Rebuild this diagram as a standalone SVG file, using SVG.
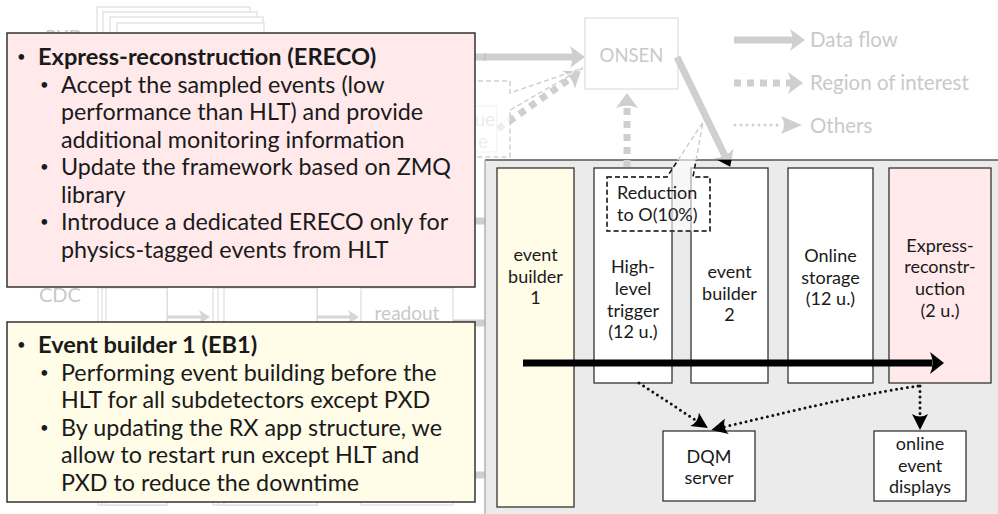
<svg xmlns="http://www.w3.org/2000/svg" width="998" height="514" viewBox="0 0 998 514">
<defs>
<style>
.f{font-family:Lato,"Liberation Sans",sans-serif}
.note{font-size:23.3px;fill:#1a1a1a}
.b{font-weight:bold;font-size:23.6px}
.bul{font-size:15px}
.node rect{stroke:#333;stroke-width:1.3}
.node text{font-size:18px;text-anchor:middle;fill:#1a1a1a}
.dim{fill:#c9c9c9}
.dimbox{fill:#fff;stroke:#dedede;stroke-width:1.2}
.flow{stroke:#cfcfcf;stroke-width:7;fill:none}
.thin{stroke:#d6d6d6;stroke-width:3;fill:none}
.roi{stroke:#cfcfcf;stroke-width:7;stroke-dasharray:7 6;fill:none}
.dot{stroke:#111;stroke-width:3;stroke-linecap:round;stroke-dasharray:0 5.5;fill:none}
.ldot{stroke:#cfcfcf;stroke-width:3;stroke-linecap:round;stroke-dasharray:0 6;fill:none}
</style>
<marker id="headGrey" markerUnits="userSpaceOnUse" markerWidth="16" markerHeight="22" viewBox="0 0 16 22" refX="3" refY="11" orient="auto">
<path d="M0,0 L15,11 L0,22 Q5,11 0,0Z" fill="#cfcfcf"/>
</marker>
<marker id="headThin" markerUnits="userSpaceOnUse" markerWidth="12" markerHeight="14" viewBox="0 0 12 14" refX="2" refY="7" orient="auto">
<path d="M0,0 L11,7 L0,14 Q4,7 0,0Z" fill="#d6d6d6"/>
</marker>
<marker id="headBlackFlow" markerUnits="userSpaceOnUse" markerWidth="16" markerHeight="22" viewBox="0 0 16 22" refX="3" refY="11" orient="auto">
<path d="M0,0 L15,11 L0,22 Q5,11 0,0Z" fill="#000"/>
</marker>
<marker id="headBig" markerUnits="userSpaceOnUse" markerWidth="15" markerHeight="22" viewBox="0 0 15 22" refX="2" refY="11" orient="auto">
<path d="M0,0 L14,11 L0,22 Q5,11 0,0Z" fill="#000"/>
</marker>
<marker id="headDot" markerUnits="userSpaceOnUse" markerWidth="16" markerHeight="16" viewBox="0 0 16 16" refX="3" refY="8" orient="auto">
<path d="M0,0 L16,8 L0,16 Q5,8 0,0Z" fill="#000"/>
</marker>
<marker id="headIn" markerUnits="userSpaceOnUse" markerWidth="13" markerHeight="16" viewBox="0 0 13 16" refX="1" refY="8" orient="auto">
<path d="M0,0 L12,8 L0,16 Q2,8 0,0Z" fill="#000"/>
</marker>
<marker id="headLegDot" markerUnits="userSpaceOnUse" markerWidth="22" markerHeight="18" viewBox="0 0 22 18" refX="2" refY="9" orient="auto">
<path d="M0,0 L21,9 L0,18 Q6,9 0,0Z" fill="#cfcfcf"/>
</marker>
<clipPath id="panelArea"><rect x="485" y="160" width="513" height="354"/></clipPath>
<clipPath id="aboveNote"><rect x="0" y="0" width="998" height="33"/></clipPath>
</defs>

<rect width="998" height="514" fill="#fff"/>

<!-- upstream readout chain, shown dimmed -->
<g id="upstream" class="f">
  <g id="pxd-stack">
    <rect class="dimbox" x="97" y="7" width="153" height="60"/>
    <rect class="dimbox" x="103" y="12" width="154" height="60"/>
    <rect class="dimbox" x="110" y="17" width="153" height="60"/>
    <rect class="dimbox" x="117" y="23" width="147" height="60"/>
    <text class="dim" x="45" y="44" font-size="19" clip-path="url(#aboveNote)">PXD</text>
  </g>
  <g id="cdc-chain">
    <text class="dim" x="39" y="302" font-size="20">CDC</text>
    <rect class="dimbox" x="98" y="288" width="69" height="217"/>
    <rect class="dimbox" x="102" y="288" width="65" height="217"/>
    <rect class="dimbox" x="106" y="288" width="61" height="217"/>
    <rect class="dimbox" x="213" y="288" width="104" height="217"/>
    <rect class="dimbox" x="218" y="288" width="99" height="217"/>
    <rect class="dimbox" x="224" y="288" width="93" height="217"/>
    <rect class="dimbox" x="361" y="288" width="92" height="217"/>
    <text class="dim" x="407" y="320" font-size="19" text-anchor="middle">readout</text>
    <line class="thin" x1="167" y1="317" x2="201" y2="317" marker-end="url(#headThin)"/>
    <line class="thin" x1="317" y1="317" x2="350" y2="317" marker-end="url(#headThin)"/>
  </g>
  <g id="roi-box">
    <rect class="dimbox" x="400" y="106" width="97" height="46"/>
    <text class="dim" x="495" y="126" font-size="19" text-anchor="end">ue</text>
    <text class="dim" x="488" y="148" font-size="19" text-anchor="end">e</text>
  </g>
  <g id="onsen">
    <rect class="dimbox" x="585" y="18" width="93" height="71"/>
    <text class="dim" x="631.5" y="62" font-size="18.5" text-anchor="middle">ONSEN</text>
  </g>
  <g id="upstream-links">
    <line class="flow" x1="470" y1="57" x2="573" y2="57" marker-end="url(#headGrey)"/>
    <line x1="485" y1="53" x2="485" y2="61" stroke="#bbb" stroke-width="1"/>
    <line class="roi" x1="498" y1="129" x2="571" y2="78" marker-end="url(#headGrey)"/>
    <path d="M470,81 H510 V93 L583,68 L510,110 V157 H470" fill="#fff" fill-opacity="0.65" stroke="#cfcfcf" stroke-width="1.5" stroke-dasharray="5 3"/>
    <line class="roi" x1="627" y1="167" x2="627" y2="105" marker-end="url(#headGrey)"/>
    <line class="flow" x1="677" y1="57" x2="725" y2="156" marker-end="url(#headGrey)"/>
    <line class="flow" x1="453" y1="221" x2="486" y2="221" marker-end="url(#headIn)"/>
    <line class="flow" x1="453" y1="323" x2="486" y2="323" marker-end="url(#headIn)"/>
    <line class="flow" x1="453" y1="475" x2="486" y2="475" marker-end="url(#headIn)"/>
  </g>
  <g id="legend">
    <line class="flow" x1="734" y1="40" x2="793" y2="40" marker-end="url(#headGrey)"/>
    <text class="dim" x="810" y="47" font-size="20.5">Data flow</text>
    <line class="roi" x1="734" y1="83" x2="791" y2="83" marker-end="url(#headGrey)"/>
    <text class="dim" x="810" y="90" font-size="20.5">Region of interest</text>
    <line class="ldot" x1="735" y1="125" x2="783" y2="125" marker-end="url(#headLegDot)"/>
    <text class="dim" x="810" y="133" font-size="20.5">Others</text>
  </g>
</g>

<!-- HLT farm panel -->
<g id="panel">
  <rect x="485" y="160" width="520" height="360" fill="#ebebeb"/>
  <line x1="485" y1="160" x2="998" y2="160" stroke="#555" stroke-width="1.3"/>
  <line x1="485" y1="160" x2="485" y2="514" stroke="#aaa" stroke-width="1.3"/>
</g>

<g id="eb1" class="node f">
  <rect x="497" y="168" width="77" height="339" fill="#fffce8"/>
  <text x="535.5" y="261">event</text>
  <text x="535.5" y="283">builder</text>
  <text x="535.5" y="304">1</text>
</g>
<g id="hlt" class="node f">
  <rect x="594" y="168" width="78" height="215" fill="#fff"/>
  <text x="633" y="273">High-</text>
  <text x="633" y="295">level</text>
  <text x="633" y="317">trigger</text>
  <text x="633" y="338">(12 u.)</text>
</g>
<g id="eb2" class="node f">
  <rect x="691" y="168" width="77" height="215" fill="#fff"/>
  <text x="729.5" y="278">event</text>
  <text x="729.5" y="300">builder</text>
  <text x="729.5" y="321">2</text>
</g>
<g id="storage" class="node f">
  <rect x="788" y="168" width="85" height="215" fill="#fff"/>
  <text x="830.5" y="262">Online</text>
  <text x="830.5" y="284">storage</text>
  <text x="830.5" y="305">(12 u.)</text>
</g>
<g id="ereco" class="node f">
  <rect x="889" y="168" width="102" height="215" fill="#ffe9eb"/>
  <text x="940" y="252">Express-</text>
  <text x="940" y="273">reconstr-</text>
  <text x="940" y="295">uction</text>
  <text x="940" y="317">(2 u.)</text>
</g>
<g id="dqm" class="node f">
  <rect x="663" y="431" width="92" height="70" fill="#fff"/>
  <text x="709" y="463">DQM</text>
  <text x="709" y="484">server</text>
</g>
<g id="displays" class="node f">
  <rect x="874" y="431" width="92" height="70" fill="#fff"/>
  <text x="920" y="450">online</text>
  <text x="920" y="472">event</text>
  <text x="920" y="493">displays</text>
</g>

<g id="connectors">
  <line x1="523" y1="363" x2="932" y2="363" stroke="#000" stroke-width="7" marker-end="url(#headBig)"/>
  <path class="dot" d="M639,383 L697,421" marker-end="url(#headDot)"/>
  <path class="dot" d="M918,386 Q860,394 724,427" marker-end="url(#headDot)"/>
  <path class="dot" d="M920,386 V417" marker-end="url(#headDot)"/>
  <g clip-path="url(#panelArea)">
    <line class="roi" x1="627" y1="167" x2="627" y2="105" stroke="#000"/>
    <line x1="677" y1="57" x2="725" y2="156" stroke="none" marker-end="url(#headBlackFlow)"/>
  </g>
</g>

<!-- reduction callout on the HLT -->
<g id="reduction" class="f">
  <path d="M607,177 H667 L703,122 L693,177 H710 V231 H607 Z" fill="#fff" fill-opacity="0.6" stroke="#cfcfcf" stroke-width="1.5" stroke-dasharray="5 3"/>
  <path d="M607,177 H667 L703,122 L693,177 H710 V231 H607 Z" fill="none" stroke="#111" stroke-width="1.5" stroke-dasharray="5 3" clip-path="url(#panelArea)"/>
  <text x="617" y="199" font-size="18" fill="#1a1a1a">Reduction</text>
  <text x="617" y="221" font-size="18" fill="#1a1a1a">to O(10%)</text>
</g>

<!-- explanatory notes -->
<g id="note-ereco" class="f note">
  <rect x="7" y="33" width="468" height="254" fill="#ffe9eb" stroke="#333" stroke-width="1.5"/>
  <text class="bul" x="17" y="62">•</text>
  <text x="38" y="65" class="b">Express-reconstruction (ERECO)</text>
  <text class="bul" x="40" y="89.5">•</text>
  <text x="61" y="92.5">Accept the sampled events (low</text>
  <text x="61" y="120">performance than HLT) and provide</text>
  <text x="61" y="147.5">additional monitoring information</text>
  <text class="bul" x="40" y="172">•</text>
  <text x="61" y="175">Update the framework based on ZMQ</text>
  <text x="61" y="202.5">library</text>
  <text class="bul" x="40" y="227">•</text>
  <text x="61" y="230">Introduce a dedicated ERECO only for</text>
  <text x="61" y="257.5">physics-tagged events from HLT</text>
</g>
<g id="note-eb1" class="f note">
  <rect x="7" y="322" width="468" height="180" fill="#fffce8" stroke="#333" stroke-width="1.5"/>
  <text class="bul" x="17" y="350">•</text>
  <text x="38" y="353" class="b">Event builder 1 (EB1)</text>
  <text class="bul" x="40" y="377.5">•</text>
  <text x="61" y="380.5">Performing event building before the</text>
  <text x="61" y="408">HLT for all subdetectors except PXD</text>
  <text class="bul" x="40" y="432.5">•</text>
  <text x="61" y="435.5">By updating the RX app structure, we</text>
  <text x="61" y="463">allow to restart run except HLT and</text>
  <text x="61" y="490.5">PXD to reduce the downtime</text>
</g>
</svg>
